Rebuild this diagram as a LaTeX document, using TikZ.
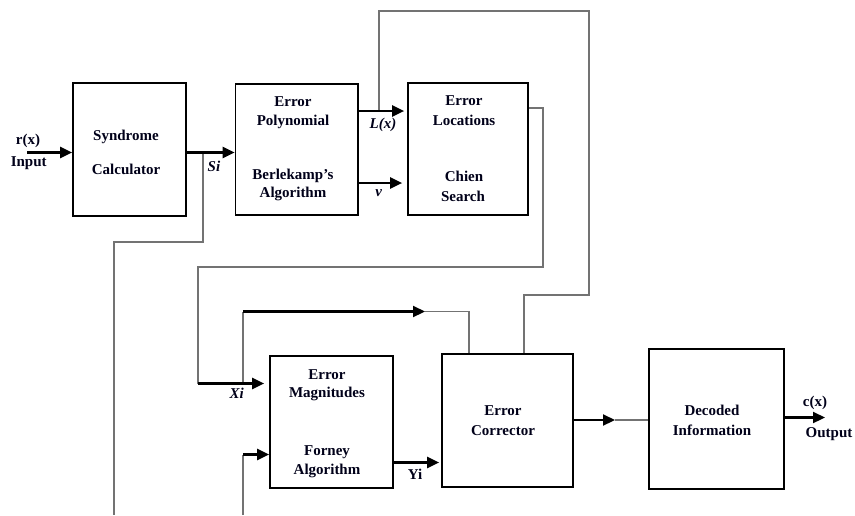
\documentclass[tikz,border=0pt]{standalone}
\usepackage{fontspec}
\setmainfont{Liberation Serif}
\usetikzlibrary{arrows.meta}
\begin{document}
\begin{tikzpicture}[x=1pt,y=-1pt,
  box/.style={draw=black, line width=1.7pt, inner sep=0pt, fill=white},
  wire/.style={draw=black!55, line width=1.1pt},
  arr/.style={draw=black, line width=2.2pt, -{Triangle[length=12pt,width=11pt]}},
  txt/.style={font=\bfseries\fontsize{15}{18}\selectfont, text=black!90!blue, inner sep=0pt, anchor=base},
  itx/.style={txt, font=\bfseries\itshape\fontsize{15}{18}\selectfont}]
\useasboundingbox (0,0) rectangle (855,515);

% boxes
\node[box, minimum width=113pt, minimum height=133pt] (syn) at (129.5,149.5) {};
\node[box, minimum width=122.5pt, minimum height=131pt] (ber) at (296.75,149.5) {};
\node[box, minimum width=120pt, minimum height=132pt] (chien) at (468,149) {};
\node[box, minimum width=123pt, minimum height=132pt] (forney) at (331.5,422) {};
\node[box, minimum width=131pt, minimum height=133pt] (corr) at (507.5,420.5) {};
\node[box, minimum width=135pt, minimum height=140pt] (dec) at (716.5,419) {};

% box texts
\node[txt] (s1) at (126,140) {Syndrome};
\node[txt] (s2) at (126,174) {Calculator};
\node[txt] (b1) at (293,106.5) {Error};
\node[txt] (b2) at (293,125) {Polynomial};
\node[txt] (b3) at (293,179) {Berlekamp’s};
\node[txt] (b4) at (293,197.5) {Algorithm};
\node[txt] (c1) at (464,105.3) {Error};
\node[txt] (c2) at (464,125) {Locations};
\node[txt] (c3t) at (464,181.7) {Chien};
\node[txt] (c4) at (463,201) {Search};
\node[txt] (f1) at (327,379) {Error};
\node[txt] (f2) at (327,397.7) {Magnitudes};
\node[txt] (f3) at (327,455) {Forney};
\node[txt] (f4) at (327,474) {Algorithm};
\node[txt] (e1) at (503,415.7) {Error};
\node[txt] (e2) at (503,435) {Corrector};
\node[txt] (d1) at (712,415.7) {Decoded};
\node[txt] (d2) at (712,435) {Information};

% coordinates
\coordinate (inp) at (27,152.5);
\coordinate (si) at (203,152.5);
\coordinate (sb) at (114,242);
\coordinate (send) at (114,515);
\coordinate (lx) at (379,111);
\coordinate (tr) at (589,11);
\coordinate (cr) at (589,295);
\coordinate (cl) at (524,295);
\coordinate (vv) at (358,183);
\coordinate (c3) at (543,108);
\coordinate (c3b) at (543,267);
\coordinate (xl) at (198,267);
\coordinate (xi) at (198,383.5);
\coordinate (xb) at (243,383.5);
\coordinate (xt) at (243,311.5);
\coordinate (xa) at (425,311.5);
\coordinate (xr) at (469,311.5);
\coordinate (fb) at (243,515);
\coordinate (ft) at (243,454.5);
\coordinate (yi) at (393,462.5);
\coordinate (cd) at (615,420);
\coordinate (out) at (825,417.5);

% gray wires
\draw[wire] (si) -- (si |- sb) -- (sb) -- (send);
\draw[wire] (lx) -- (lx |- tr) -- (tr) -- (cr) -- (cl) -- (cl |- corr.north);
\draw[wire] (chien.east |- c3) -- (c3) -- (c3b) -- (xl) -- (xi);
\draw[wire] (xb) -- (xt);
\draw[wire] (xa) -- (xr) -- (xr |- corr.north);
\draw[wire] (fb) -- (ft);
\draw[wire] (cd) -- (cd -| dec.west);

% arrows
\draw[arr] (inp) -- (inp -| syn.west);
\draw[arr] (si -| syn.east) -- (si -| ber.west);
\draw[arr] (lx -| ber.east) -- ([xshift=-3pt]lx -| chien.west);
\draw[arr] (vv -| ber.east) -- ([xshift=-5pt]vv -| chien.west);
\draw[arr] (xi) -- ([xshift=-5pt]xi -| forney.west);
\draw[arr] (xt) -- (xa);
\draw[arr] (ft) -- (ft -| forney.west);
\draw[arr] (yi -| forney.east) -- ([xshift=-2pt]yi -| corr.west);
\draw[arr] (cd -| corr.east) -- (cd);
\draw[arr] (out -| dec.east) -- (out);

% labels
\node[txt] (lr) at (28,144) {r(x)};
\node[txt] (lin) at (28.7,166.7) {Input};
\node[itx] (lsi) at (214,171.7) {Si};
\node[itx] (llx) at (383,128.3) {L(x)};
\node[itx] (lv) at (378.7,196) {v};
\node[itx] (lxi) at (236.7,398.3) {Xi};
\node[txt] (lyi) at (415,479.3) {Yi};
\node[txt] (lc) at (815,406) {c(x)};
\node[txt] (lout) at (829,437.7) {Output};
\end{tikzpicture}
\end{document}
